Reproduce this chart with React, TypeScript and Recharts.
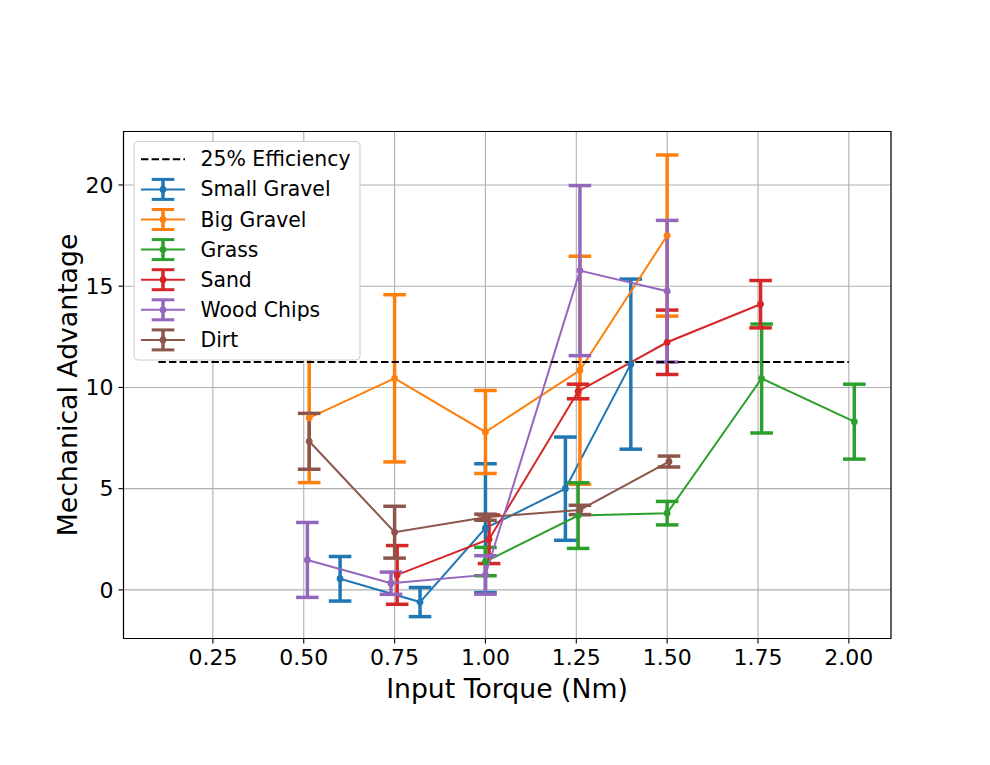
import React from "react";
import {
  ComposedChart,
  Line,
  XAxis,
  YAxis,
  CartesianGrid,
  ErrorBar,
  ReferenceArea
} from "recharts";

const FONT = "'DejaVu Sans', sans-serif";

// values
const seriesNames = ["Small Gravel", "Big Gravel", "Grass", "Sand", "Wood Chips", "Dirt"];
const seriesColors = ["#1f77b4", "#ff7f0e", "#2ca02c", "#d62728", "#9467bd", "#8c564b"];

const smallGravelTorque = [0.6, 0.82, 1.0, 1.22, 1.4];
const smallGravelAdvantage = [0.55, -0.6, 3.05, 5.0, 11.15];
const smallGravelError = [1.1, 0.72, 3.18, 2.55, 4.2];

const bigGravelTorque = [0.515, 0.75, 1.0, 1.26, 1.5];
const bigGravelAdvantage = [8.5, 10.45, 7.8, 10.85, 17.5];
const bigGravelError = [3.2, 4.13, 2.05, 5.63, 3.98];

const grassTorque = [1.0, 1.255, 1.5, 1.76, 2.015];
const grassAdvantage = [1.4, 3.67, 3.79, 10.44, 8.31];
const grassError = [0.7, 1.62, 0.58, 2.69, 1.85];

const sandTorque = [0.757, 1.01, 1.255, 1.5, 1.757];
const sandAdvantage = [0.74, 2.5, 9.8, 12.23, 14.11];
const sandError = [1.45, 1.2, 0.36, 1.59, 1.17];

const woodChipsTorque = [0.51, 0.74, 1.0, 1.26, 1.5];
const woodChipsAdvantage = [1.48, 0.33, 0.74, 15.77, 14.75];
const woodChipsError = [1.85, 0.55, 0.95, 4.2, 3.5];

const dirtTorque = [0.515, 0.75, 1.0, 1.26, 1.505];
const dirtAdvantage = [7.34, 2.85, 3.59, 3.95, 6.34];
const dirtError = [1.38, 1.28, 0.15, 0.23, 0.27];

const efficiencyTorque = [0.1, 2.0];
const efficiencyAdvantage = [11.25, 11.25];

const xTicks = [0.25, 0.5, 0.75, 1.0, 1.25, 1.5, 1.75, 2.0];
const yTicks = [0, 5, 10, 15, 20];
const xDomain = [0.004, 2.116];
const yDomain = [-2.4, 22.64];

const toPoints = (xs: number[], ys: number[], es?: number[]) =>
  xs.map((x, i) => ({ x, y: ys[i], err: es ? es[i] : 0 }));

const series = [
  toPoints(smallGravelTorque, smallGravelAdvantage, smallGravelError),
  toPoints(bigGravelTorque, bigGravelAdvantage, bigGravelError),
  toPoints(grassTorque, grassAdvantage, grassError),
  toPoints(sandTorque, sandAdvantage, sandError),
  toPoints(woodChipsTorque, woodChipsAdvantage, woodChipsError),
  toPoints(dirtTorque, dirtAdvantage, dirtError)
];
const efficiency = toPoints(efficiencyTorque, efficiencyAdvantage);

const Overlay = () => {
  const rowY = (i: number) => 159.3 + i * 30.1;
  return (
    <svg
      width={990}
      height={765}
      style={{ position: "absolute", left: 0, top: 0, pointerEvents: "none" }}
    >
      <rect
        x={134}
        y={141.5}
        width={226}
        height={218.5}
        rx={4}
        fill="#ffffff"
        stroke="#cccccc"
        strokeWidth={1}
      />
      <line
        x1={141}
        x2={185}
        y1={rowY(0)}
        y2={rowY(0)}
        stroke="#000"
        strokeWidth={2}
        strokeDasharray="7.4 3.2"
      />
      <text x={200.5} y={rowY(0)} dominantBaseline="central" fontSize={20.4} fontFamily={FONT}>
        25% Efficiency
      </text>
      {seriesNames.map((name, i) => {
        const y = rowY(i + 1);
        const c = seriesColors[i];
        return (
          <g key={name}>
            <line x1={141} x2={185} y1={y} y2={y} stroke={c} strokeWidth={2} />
            <line x1={163} x2={163} y1={y - 10} y2={y + 10} stroke={c} strokeWidth={3.5} />
            <line x1={151.7} x2={174.3} y1={y - 10} y2={y - 10} stroke={c} strokeWidth={3} />
            <line x1={151.7} x2={174.3} y1={y + 10} y2={y + 10} stroke={c} strokeWidth={3} />
            <circle cx={163} cy={y} r={3.4} fill={c} />
            <text x={200.5} y={y} dominantBaseline="central" fontSize={20.4} fontFamily={FONT}>
              {name}
            </text>
          </g>
        );
      })}
      <text
        x={507}
        y={688}
        textAnchor="middle"
        dominantBaseline="central"
        fontSize={26.7}
        fontFamily={FONT}
      >
        Input Torque (Nm)
      </text>
      <text
        x={67}
        y={385}
        textAnchor="middle"
        dominantBaseline="central"
        fontSize={26.7}
        fontFamily={FONT}
        transform="rotate(-90 67 385)"
      >
        Mechanical Advantage
      </text>
    </svg>
  );
};

export default function App() {
  return (
    <div
      style={{
        position: "absolute",
        left: 0,
        top: 0,
        width: 990,
        height: 765,
        background: "#fff",
        fontFamily: FONT
      }}
    >
      <ComposedChart
        width={990}
        height={765}
        margin={{ top: 131.5, right: 99, left: 63.5, bottom: 66.5 }}
      >
        <CartesianGrid stroke="#b0b0b0" strokeWidth={1.1} />
        <XAxis
          dataKey="x"
          type="number"
          domain={xDomain}
          ticks={xTicks}
          allowDataOverflow
          height={60}
          tickFormatter={(v: number) => v.toFixed(2)}
          tick={{ fill: "#000", fontSize: 22, fontFamily: FONT }}
          tickSize={5}
          tickMargin={6}
          axisLine={{ stroke: "#000", strokeWidth: 1.1 }}
          tickLine={{ stroke: "#000", strokeWidth: 1.1 }}
        />
        <YAxis
          type="number"
          domain={yDomain}
          ticks={yTicks}
          allowDataOverflow
          width={60}
          tick={{ fill: "#000", fontSize: 22, fontFamily: FONT }}
          tickSize={5}
          tickMargin={5}
          axisLine={{ stroke: "#000", strokeWidth: 1.1 }}
          tickLine={{ stroke: "#000", strokeWidth: 1.1 }}
        />
        {series.map((pts, i) => (
          <Line
            key={seriesNames[i]}
            data={pts}
            dataKey="y"
            name={seriesNames[i]}
            stroke={seriesColors[i]}
            strokeWidth={2}
            dot={{ r: 3.4, fill: seriesColors[i], stroke: seriesColors[i], strokeWidth: 0 }}
            activeDot={false}
            isAnimationActive={false}
          >
            <ErrorBar
              dataKey="err"
              direction="y"
              width={11.3}
              stroke={seriesColors[i]}
              strokeWidth={3.5}
              isAnimationActive={false}
            />
          </Line>
        ))}
        <Line
          data={efficiency}
          dataKey="y"
          stroke="#000"
          strokeWidth={2}
          strokeDasharray="7.4 3.2"
          dot={false}
          activeDot={false}
          isAnimationActive={false}
        />
        <ReferenceArea
          x1={xDomain[0]}
          x2={xDomain[1]}
          y1={yDomain[0]}
          y2={yDomain[1]}
          fill="none"
          fillOpacity={0}
          stroke="#000"
          strokeWidth={1.1}
          ifOverflow="visible"
        />
      </ComposedChart>
      <Overlay />
    </div>
  );
}
